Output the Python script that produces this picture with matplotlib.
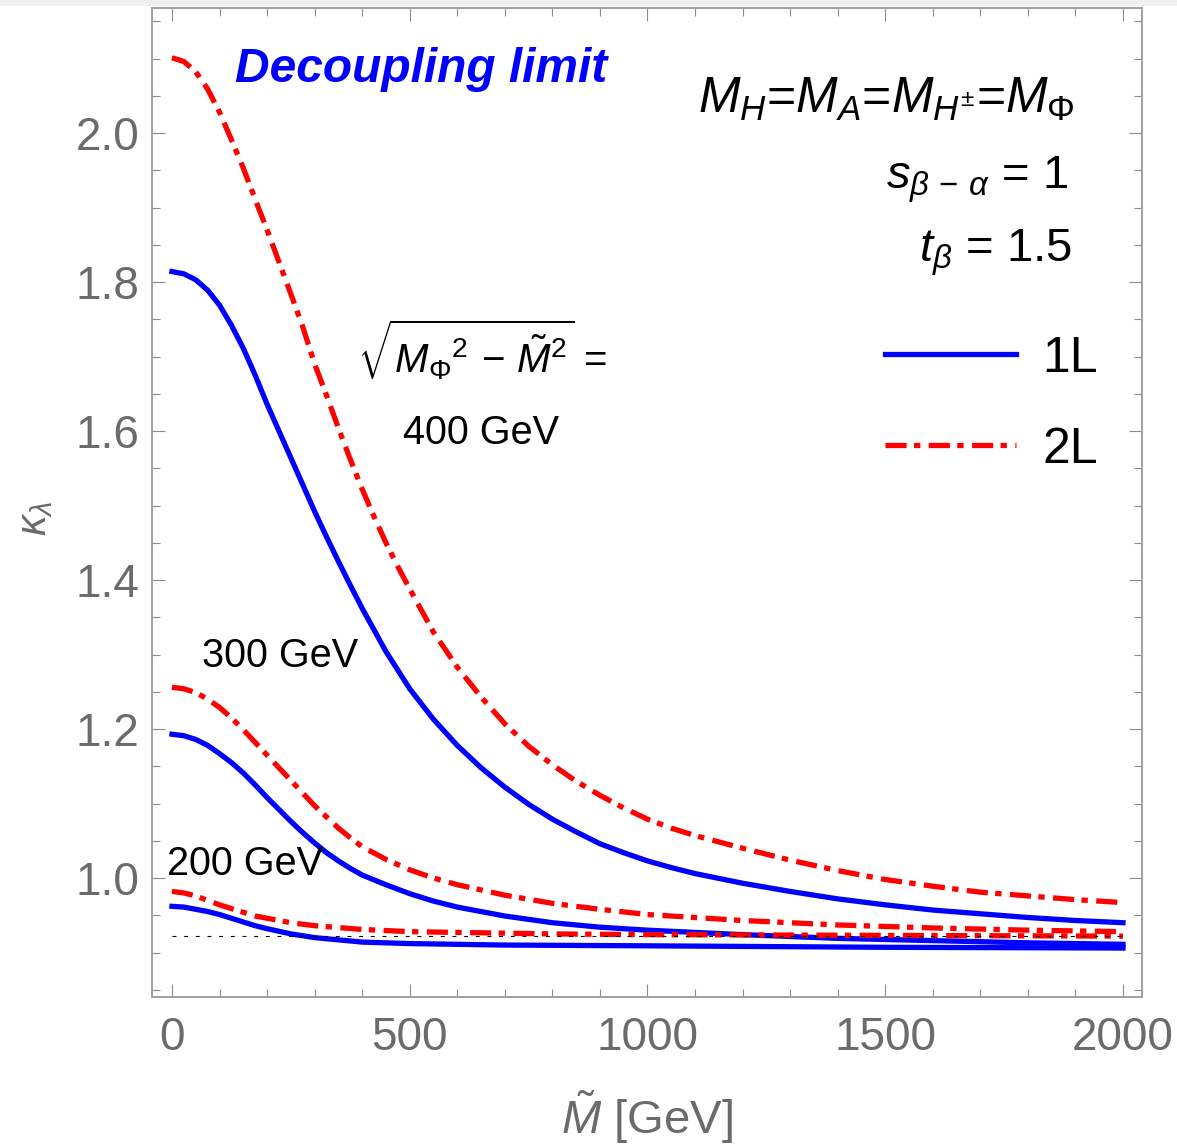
import matplotlib
matplotlib.use("Agg")
import matplotlib.pyplot as plt
from matplotlib.ticker import MultipleLocator
from matplotlib.patches import Rectangle

plt.rcParams['font.family'] = ['Liberation Sans', 'DejaVu Sans']
plt.rcParams['mathtext.fontset'] = 'custom'
plt.rcParams['mathtext.rm'] = 'Liberation Sans'
plt.rcParams['mathtext.it'] = 'Liberation Sans:italic'
plt.rcParams['mathtext.bf'] = 'Liberation Sans:bold'

# kappa_lambda vs M-tilde [GeV], decoupling limit
# sqrt(M_Phi^2 - Mt^2) = 400 GeV
mt_400_1l = [0, 25, 50, 75, 100, 125, 150, 175, 200, 225, 250, 275, 300, 325, 350, 375, 400,
             425, 450, 475, 500, 550, 600, 650, 700, 750, 800, 850, 900, 950, 1000, 1050,
             1100, 1200, 1300, 1400, 1500, 1600, 1700, 1800, 1900, 2000]
kl_400_1l = [1.814, 1.811, 1.803, 1.789, 1.769, 1.742, 1.711, 1.675, 1.636, 1.600, 1.564,
             1.528, 1.492, 1.458, 1.425, 1.393, 1.362, 1.333, 1.304, 1.279, 1.254, 1.213,
             1.178, 1.148, 1.122, 1.099, 1.079, 1.062, 1.046, 1.034, 1.023, 1.014, 1.006,
             0.993, 0.982, 0.972, 0.964, 0.957, 0.952, 0.947, 0.943, 0.940]
mt_400_2l = [0, 25, 50, 75, 100, 125, 150, 175, 200, 225, 250, 275, 300, 325, 350, 375, 400,
             425, 450, 475, 500, 550, 600, 650, 700, 750, 800, 850, 900, 950, 1000, 1050,
             1100, 1200, 1300, 1400, 1500, 1600, 1700, 1800, 1900, 2000]
kl_400_2l = [2.101, 2.096, 2.082, 2.059, 2.028, 1.991, 1.953, 1.911, 1.870, 1.827, 1.784,
             1.740, 1.690, 1.648, 1.604, 1.562, 1.522, 1.485, 1.450, 1.418, 1.388, 1.330,
             1.283, 1.243, 1.207, 1.177, 1.152, 1.130, 1.111, 1.094, 1.079, 1.067, 1.057,
             1.040, 1.024, 1.010, 0.998, 0.989, 0.981, 0.976, 0.971, 0.967]

# 300 GeV
mt_300_1l = [0, 25, 50, 75, 100, 125, 150, 175, 200, 225, 250, 275, 300, 325, 350, 375, 400,
             450, 500, 550, 600, 700, 800, 900, 1000, 1200, 1400, 1600, 1800, 2000]
kl_300_1l = [1.193, 1.191, 1.186, 1.178, 1.167, 1.155, 1.141, 1.125, 1.108, 1.092, 1.076,
             1.061, 1.047, 1.034, 1.023, 1.013, 1.004, 0.991, 0.979, 0.969, 0.961, 0.949,
             0.940, 0.934, 0.930, 0.924, 0.919, 0.916, 0.913, 0.911]
mt_300_2l = [0, 25, 50, 75, 100, 125, 150, 175, 200, 225, 250, 275, 300, 325, 350, 375, 400,
             450, 500, 550, 600, 700, 800, 900, 1000, 1200, 1400, 1600, 1800, 2000]
kl_300_2l = [1.256, 1.254, 1.249, 1.240, 1.229, 1.215, 1.199, 1.182, 1.165, 1.148, 1.131,
             1.114, 1.097, 1.082, 1.067, 1.054, 1.042, 1.025, 1.011, 1.000, 0.991, 0.977,
             0.966, 0.958, 0.951, 0.943, 0.937, 0.933, 0.930, 0.928]

# 200 GeV
mt_200_1l = [0, 25, 50, 75, 100, 125, 150, 175, 200, 250, 300, 350, 400, 500, 700, 1000,
             1500, 2000]
kl_200_1l = [0.962, 0.961, 0.958, 0.955, 0.951, 0.946, 0.941, 0.936, 0.932, 0.925, 0.920,
             0.917, 0.914, 0.912, 0.910, 0.909, 0.907, 0.906]
mt_200_2l = [0, 25, 50, 75, 100, 125, 150, 175, 200, 250, 300, 400, 500, 600, 800, 1000,
             1500, 2000]
kl_200_2l = [0.982, 0.980, 0.976, 0.970, 0.964, 0.959, 0.954, 0.949, 0.946, 0.940, 0.936,
             0.931, 0.928, 0.927, 0.925, 0.924, 0.923, 0.922]

# horizontal reference value
mt_ref = [0, 2000]
kl_ref = 0.922

blue = '#0000ff'
red = '#ff0000'
dashdot = (0, (4, 1.4, 1.2, 1.6))
line_kw = dict(lw=3.8, solid_joinstyle='round', dash_joinstyle='round')

fig = plt.figure(figsize=(11.77, 11.46), dpi=100)
ax = fig.add_axes([0.12914, 0.13002, 0.84112, 0.86300])

ax.plot(mt_400_1l, kl_400_1l, color=blue, label='1L', **line_kw)
ax.plot(mt_400_2l, kl_400_2l, color=red, ls=dashdot, label='2L', **line_kw)
ax.plot(mt_300_1l, kl_300_1l, color=blue, **line_kw)
ax.plot(mt_300_2l, kl_300_2l, color=red, ls=dashdot, **line_kw)
ax.plot(mt_200_1l, kl_200_1l, color=blue, **line_kw)
ax.plot(mt_200_2l, kl_200_2l, color=red, ls=dashdot, **line_kw)
ax.plot(mt_ref, [kl_ref, kl_ref], color='black', lw=0.8, ls=(0, (3.5, 7)), zorder=5)

ax.set_xlim(-42, 2040)
ax.set_ylim(0.8403, 2.1678)

ax.xaxis.set_major_locator(MultipleLocator(500))
ax.xaxis.set_minor_locator(MultipleLocator(100))
ax.yaxis.set_major_locator(MultipleLocator(0.2))
ax.yaxis.set_minor_locator(MultipleLocator(0.05))
ax.tick_params(which='both', direction='in', top=True, right=True, color='#8c8c8c',
               width=0.8, labelcolor='#6b6b6b', labelsize=33)
ax.tick_params(which='major', length=9.5)
ax.tick_params(which='minor', length=5.5)
ax.tick_params(axis='x', pad=14)
ax.tick_params(axis='y', pad=9)
for sp in ax.spines.values():
    sp.set_color('#a0a0a0')
    sp.set_linewidth(1.4)

ax.set_xlabel(r'$\tilde{M}$ [GeV]', fontsize=34, color='#6b6b6b', labelpad=20)
fig.text(35 / 1177, 1 - 518 / 1146, r'$\kappa_\lambda$', fontsize=30, color='#6b6b6b',
         rotation=90, ha='center', va='center')

# annotations
ax.text(132, 2.085, 'Decoupling limit', color=blue, fontsize=34.5, fontweight='bold',
        fontstyle='italic', va='center', ha='left')
ax.text(1899, 2.027, r'$M_H$=$M_A$=$M_{H^{\pm}}$=$M_\Phi$', fontsize=36, ha='right',
        va='baseline')
ax.text(1885, 1.925, r'$s_{\beta\,-\,\alpha}$ = 1', fontsize=34, ha='right', va='baseline')
ax.text(1893, 1.827, r'$t_\beta$ = 1.5', fontsize=34, ha='right', va='baseline')
ax.text(652, 1.678, r'$\sqrt{{M_\Phi}^2\,-\,\tilde{M}^2}$ =', fontsize=29, ha='center',
        va='baseline')
ax.text(650, 1.583, '400 GeV', fontsize=28.5, ha='center', va='baseline')
ax.text(63, 1.283, '300 GeV', fontsize=28.5, ha='left', va='baseline')
ax.text(-10, 1.004, '200 GeV', fontsize=28.5, ha='left', va='baseline')

ax.legend(loc='upper left', bbox_to_anchor=(0.740, 0.6684), frameon=False, fontsize=36,
          handlelength=2.62, handletextpad=0.54, labelspacing=0.9, borderpad=0,
          borderaxespad=0)

# faint strip along the top edge
fig.add_artist(Rectangle((0, 1 - 6 / 1146), 1, 6 / 1146, transform=fig.transFigure,
                         color='#efefef', lw=0))

fig.savefig('out.png', dpi=100)
